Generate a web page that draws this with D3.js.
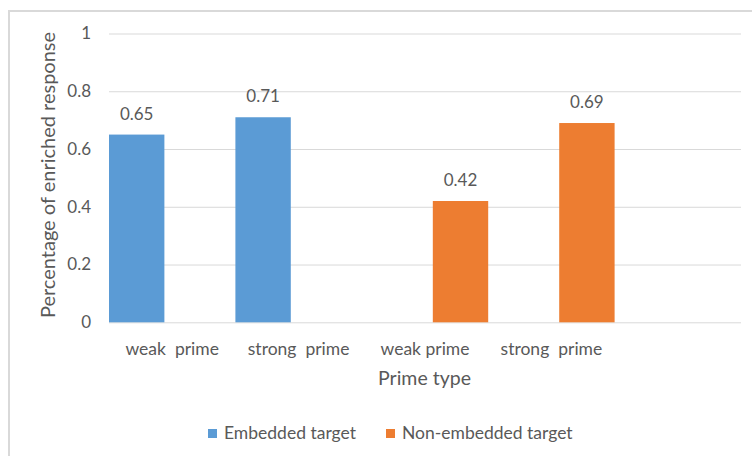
<!DOCTYPE html>
<html>
<head>
<meta charset="utf-8">
<script src="https://cdn.jsdelivr.net/npm/d3@7/dist/d3.min.js"></script>
<style>
  html, body { margin: 0; padding: 0; background: #fff; }
  svg { display: block; }
  text { font-family: Lato, "Open Sans", sans-serif; fill: #595959; white-space: pre; }
</style>
</head>
<body>
<svg id="chart" width="752" height="456"></svg>
<script>
// Category labels along the x axis (last slot is an empty category)
const categories = ["weak  prime", "strong  prime", "weak prime", "strong  prime", ""];
// Series names and their values per category (null = no bar)
const seriesNames = ["Embedded target", "Non-embedded target"];
const embeddedValues = [0.65, 0.71, null, null, null];
const nonEmbeddedValues = [null, null, 0.42, 0.69, null];
const yTicks = [0, 0.2, 0.4, 0.6, 0.8, 1];
const colors = ["#5B9BD5", "#ED7D31"];
const xTitle = "Prime type";
const yTitle = "Percentage of enriched response";

const series = [embeddedValues, nonEmbeddedValues];

const svg = d3.select("#chart");
const plot = { left: 109, right: 741, top: 33.5, bottom: 322.3 };

// Outer chart frame
svg.append("path")
  .attr("d", `M9,456 V11 H752`)
  .attr("fill", "none")
  .attr("stroke", "#d9d9d9")
  .attr("stroke-width", 2);

const x = d3.scaleBand()
  .domain(categories.map((d, i) => i))
  .range([plot.left, plot.right])
  .paddingInner(0).paddingOuter(0);

const xSub = d3.scaleBand()
  .domain(seriesNames.map((d, i) => i))
  .range([0, x.bandwidth()])
  .paddingInner(0.22).paddingOuter(0);

const y = d3.scaleLinear().domain([0, 1]).range([plot.bottom, plot.top]);

// Horizontal gridlines and tick labels
const yAxis = d3.axisLeft(y)
  .tickValues(yTicks)
  .tickSize(-(plot.right - plot.left))
  .tickPadding(18)
  .tickFormat(d => d === 0 ? "0" : d3.format("~g")(d));

const gy = svg.append("g")
  .attr("transform", `translate(${plot.left},0)`)
  .call(yAxis);
gy.select(".domain").remove();
gy.selectAll(".tick line").attr("stroke", "#d9d9d9").attr("stroke-width", 1);
gy.selectAll(".tick text")
  .attr("font-size", 17)
  .attr("fill", "#595959")
  .style("font-family", "Lato, sans-serif");

// Category labels
const xAxis = d3.axisBottom(x)
  .tickSize(0)
  .tickPadding(20)
  .tickFormat(i => categories[i]);
const gx = svg.append("g")
  .attr("transform", `translate(0,${plot.bottom})`)
  .call(xAxis);
gx.select(".domain").remove();
gx.selectAll(".tick text")
  .attr("font-size", 17.5)
  .attr("fill", "#595959")
  .style("font-family", "Lato, sans-serif")
  .style("white-space", "pre");

// Bars
const bars = [];
series.forEach((vals, s) => {
  vals.forEach((v, i) => {
    if (v !== null) bars.push({ s, i, v });
  });
});

svg.append("g").selectAll("rect")
  .data(bars)
  .join("rect")
  .attr("x", d => x(d.i) + xSub(d.s))
  .attr("width", xSub.bandwidth())
  .attr("y", d => y(d.v))
  .attr("height", d => y(0) - y(d.v))
  .attr("fill", d => colors[d.s]);

// Value labels above bars
svg.append("g").selectAll("text")
  .data(bars)
  .join("text")
  .attr("x", d => x(d.i) + xSub(d.s) + xSub.bandwidth() / 2)
  .attr("y", d => y(d.v) - 15)
  .attr("text-anchor", "middle")
  .attr("font-size", 17)
  .text(d => d3.format(".2f")(d.v));

// Axis titles
svg.append("text")
  .attr("x", 424.5)
  .attr("y", 385)
  .attr("text-anchor", "middle")
  .attr("font-size", 19.5)
  .text(xTitle);

svg.append("text")
  .attr("transform", `translate(55,${(30 + 320) / 2}) rotate(-90)`)
  .attr("text-anchor", "middle")
  .attr("font-size", 20)
  .text(yTitle);

// Legend
const legendItems = [
  { name: seriesNames[0], color: colors[0], x: 208 },
  { name: seriesNames[1], color: colors[1], x: 386 }
];
const lg = svg.append("g").selectAll("g")
  .data(legendItems)
  .join("g")
  .attr("transform", d => `translate(${d.x},429)`);
lg.append("rect").attr("width", 9).attr("height", 9).attr("fill", d => d.color);
lg.append("text")
  .attr("x", 16)
  .attr("y", 9.5)
  .attr("font-size", 17.5)
  .text(d => d.name);
</script>
</body>
</html>
